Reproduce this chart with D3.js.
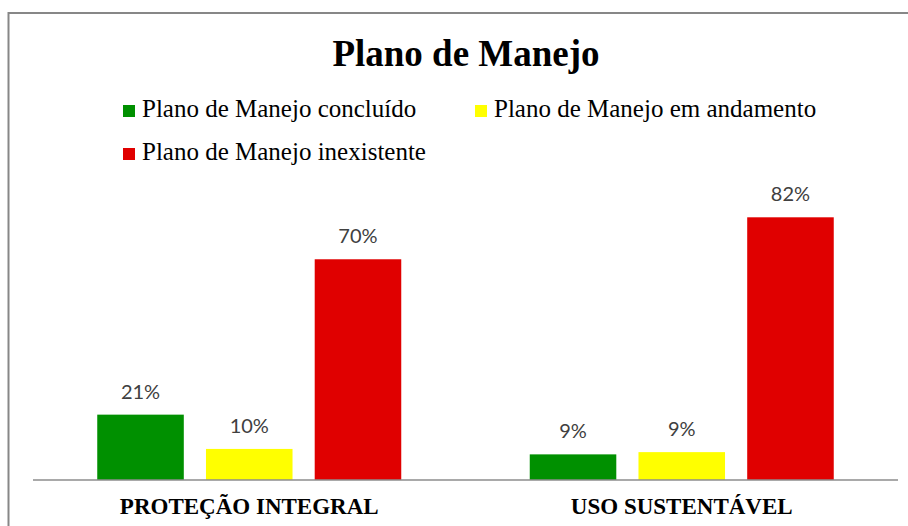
<!DOCTYPE html>
<html>
<head>
<meta charset="utf-8">
<script src="https://cdn.jsdelivr.net/npm/d3@7"></script>
<style>
  html, body { margin: 0; padding: 0; background: #fff; }
  svg { display: block; }
</style>
</head>
<body>
<svg id="chart" width="908" height="526"></svg>
<script>
const title = "Plano de Manejo";
const categories = ["PROTEÇÃO INTEGRAL", "USO SUSTENTÁVEL"];
const seriesNames = ["Plano de Manejo concluído", "Plano de Manejo em andamento", "Plano de Manejo inexistente"];
const seriesColors = ["#009000", "#FFFF00", "#E00000"];
// values (per category, per series)
const valuesConcluido = [20.4, 8.0];
const valuesAndamento = [9.7, 8.7];
const valuesInexistente = [68.9, 82.0];
// data labels as printed in the chart
const labelsConcluido = ["21%", "9%"];
const labelsAndamento = ["10%", "9%"];
const labelsInexistente = ["70%", "82%"];

const seriesValues = [valuesConcluido, valuesAndamento, valuesInexistente];
const seriesLabels = [labelsConcluido, labelsAndamento, labelsInexistente];

const svg = d3.select("#chart");

// outer frame
svg.append("rect")
  .attr("x", 8.5).attr("y", 13).attr("width", 930).attr("height", 560)
  .attr("fill", "#fff").attr("stroke", "#878787").attr("stroke-width", 2);

// title
svg.append("text")
  .attr("x", 466).attr("y", 66)
  .attr("text-anchor", "middle")
  .attr("font-family", "'Liberation Serif', 'Times New Roman', serif")
  .attr("font-weight", "bold")
  .attr("font-size", 37)
  .attr("fill", "#000")
  .text(title);

// legend
const legendPos = [[123, 117], [475, 117], [123, 160]];
const legend = svg.append("g");
seriesNames.forEach((name, i) => {
  const [lx, ly] = legendPos[i];
  legend.append("rect")
    .attr("x", lx).attr("y", ly - 12).attr("width", 12).attr("height", 12)
    .attr("fill", seriesColors[i]);
  legend.append("text")
    .attr("x", lx + 19).attr("y", ly)
    .attr("font-family", "'Liberation Serif', 'Times New Roman', serif")
    .attr("font-size", 25)
    .attr("fill", "#000")
    .text(name);
});

// scales
const baseline = 480;
const y = d3.scaleLinear().domain([0, 82]).range([baseline, 217.3]);
const x0 = d3.scaleBand().domain(categories).range([33, 898]);
const x1 = d3.scaleBand().domain(seriesNames).range([-152, 152]).paddingInner(0.204).paddingOuter(0);
const cx = c => x0(c) + x0.bandwidth() / 2;

const data = [];
categories.forEach((c, ci) => {
  seriesNames.forEach((s, si) => {
    data.push({cat: c, series: s, si, value: seriesValues[si][ci], label: seriesLabels[si][ci]});
  });
});

const bars = svg.append("g");
bars.selectAll("rect").data(data).join("rect")
  .attr("x", d => cx(d.cat) + x1(d.series))
  .attr("y", d => y(d.value))
  .attr("width", x1.bandwidth())
  .attr("height", d => baseline - y(d.value))
  .attr("fill", d => seriesColors[d.si]);

bars.selectAll("text").data(data).join("text")
  .attr("x", d => cx(d.cat) + x1(d.series) + x1.bandwidth() / 2)
  .attr("y", d => y(d.value) - 16)
  .attr("text-anchor", "middle")
  .attr("font-family", "Lato, 'Open Sans', sans-serif")
  .attr("font-size", 20)
  .attr("fill", "#404040")
  .text(d => d.label);

// baseline axis
const xAxis = d3.axisBottom(x0).tickSize(0).tickPadding(0);
const axisG = svg.append("g").attr("transform", `translate(0,${baseline})`).call(xAxis);
axisG.select(".domain").remove();
axisG.append("line")
  .attr("x1", 33).attr("x2", 898).attr("y1", 0).attr("y2", 0)
  .attr("stroke", "#8c8c8c").attr("stroke-width", 1.5);
axisG.selectAll(".tick text")
  .attr("dy", 0)
  .attr("y", 34)
  .attr("font-family", "'Liberation Serif', 'Times New Roman', serif")
  .attr("font-weight", "bold")
  .attr("font-size", 23)
  .attr("fill", "#000");
</script>
</body>
</html>
